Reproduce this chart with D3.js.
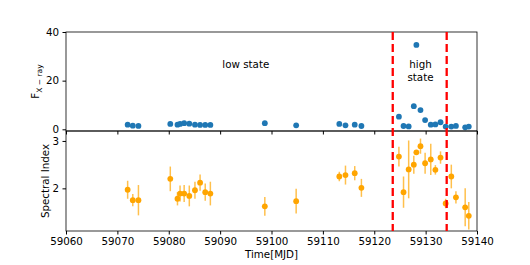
<!DOCTYPE html>
<html>
<head>
<meta charset="utf-8">
<script src="https://cdn.jsdelivr.net/npm/d3@7"></script>
<style>
  body { margin: 0; background: #fff; }
  text { font-family: "DejaVu Sans", sans-serif; }
</style>
</head>
<body>
<div id="vis"></div>
<script>
// observation times (MJD)
var times = [59072.0, 59073.0, 59074.1,
    59080.3, 59081.7, 59082.2, 59083.0, 59084.0, 59085.1, 59086.1, 59087.1, 59088.1,
    59098.7, 59104.8, 59113.2, 59114.4, 59116.2, 59117.5,
    59124.8, 59125.7, 59126.7, 59127.7, 59128.2, 59129.0, 59129.9, 59131.0, 59131.9,
    59132.9, 59133.9, 59135.0, 59135.9, 59137.7, 59138.4];

var flux = [1.9, 1.5, 1.4,
    2.2, 1.9, 2.2, 2.5, 2.3, 1.9, 1.8, 1.8, 1.8,
    2.5, 1.65, 2.2, 1.65, 1.9, 1.36,
    5.2, 1.36, 1.2, 9.5, 34.7, 7.9, 3.8, 1.9, 2.0,
    2.9, 1.1, 1.1, 1.4, 0.8, 1.1];

var specIndex = [1.97, 1.75, 1.75,
    2.20, 1.78, 1.89, 1.89, 1.84, 1.96, 2.12, 1.92, 1.89,
    1.62, 1.73, 2.25, 2.28, 2.32, 2.01,
    2.67, 1.92, 2.40, 2.50, 2.76, 2.89, 2.53, 2.61, 2.39,
    2.65, 1.68, 2.25, 1.81, 1.60, 1.42];

var specErr = [0.19, 0.13, 0.32,
    0.26, 0.14, 0.17, 0.18, 0.22, 0.18, 0.17, 0.18, 0.25,
    0.2, 0.26, 0.1, 0.2, 0.15, 0.19,
    0.21, 0.33, 0.61, 0.19, 0.05, 0.16, 0.22, 0.33, 0.1,
    0.13, 0.1, 0.25, 0.13, 0.4, 0.29];

// boundaries of the high state
var stateLines = [59123.6, 59134.1];

var xTicks = [59060, 59070, 59080, 59090, 59100, 59110, 59120, 59130, 59140];
var fluxTicks = [0, 20, 40];
var indexTicks = [2, 3];

var theMargins = {top: 32, right: 53, bottom: 34, left: 66};
var W = 530, H = 265;
var width = W - theMargins.left - theMargins.right;
var topH = 99;
var botH = 100;

var x = d3.scaleLinear().domain([59060, 59140]).range([0, width]);
var yFlux = d3.scaleLinear().domain([-0.7, 40]).range([topH, 0]);
var yIdx = d3.scaleLinear().domain([1.1, 3.21]).range([botH, 0]);

var chart = d3.select('#vis').append('svg')
    .attr("width", W)
    .attr("height", H);
var vis = chart.append('g')
    .attr("transform", "translate(" + theMargins.left + "," + theMargins.top + ")");

var fs = "10.3px";

//*// top panel \\*\\
var topPanel = vis.append("g");
topPanel.append("g")
    .call(d3.axisLeft(yFlux).tickValues(fluxTicks).tickSize(3.5).tickPadding(3.5))
    .call(function (g) { g.select(".domain").remove(); })
    .selectAll("text").style("font-size", fs).attr("fill", "#000");
topPanel.append("g")
    .attr("transform", "translate(0," + topH + ")")
    .call(d3.axisBottom(x).tickValues(xTicks).tickSize(3.5).tickFormat(""))
    .call(function (g) { g.select(".domain").remove(); });

topPanel.selectAll(".fl")
    .data(times)
    .enter().append("circle")
    .attr("cx", function (d) { return x(d); })
    .attr("cy", function (d, i) { return yFlux(flux[i]); })
    .attr("r", 2.9)
    .attr("fill", "#1f77b4");

topPanel.append("text")
    .attr("x", x(59095)).attr("y", 36)
    .attr("text-anchor", "middle")
    .style("font-size", fs)
    .text("low state");
topPanel.append("text")
    .attr("x", x(59129)).attr("y", 36)
    .attr("text-anchor", "middle")
    .style("font-size", fs)
    .text("high");
topPanel.append("text")
    .attr("x", x(59129)).attr("y", 49)
    .attr("text-anchor", "middle")
    .style("font-size", fs)
    .text("state");

// y label with subscript
var fl = vis.append("text")
    .attr("transform", "translate(-27," + (topH / 2) + ") rotate(-90)")
    .attr("text-anchor", "middle")
    .style("font-size", fs);
fl.append("tspan").text("F");
fl.append("tspan").attr("dy", 3).style("font-size", "7.5px").text("X − ray");

topPanel.append("rect")
    .attr("width", width).attr("height", topH)
    .attr("fill", "none").attr("stroke", "#000").attr("stroke-width", 0.8);

//*// bottom panel \\*\\
var bot = vis.append("g").attr("transform", "translate(0," + topH + ")");
bot.append("g")
    .call(d3.axisLeft(yIdx).tickValues(indexTicks).tickSize(3.5).tickPadding(3.5).tickFormat(d3.format("d")))
    .call(function (g) { g.select(".domain").remove(); })
    .selectAll("text").style("font-size", fs).attr("fill", "#000");
bot.append("g")
    .attr("transform", "translate(0," + botH + ")")
    .call(d3.axisBottom(x).tickValues(xTicks).tickSize(3.5).tickPadding(3.5).tickFormat(d3.format("d")))
    .call(function (g) { g.select(".domain").remove(); })
    .selectAll("text").style("font-size", fs).attr("fill", "#000");

bot.selectAll(".eb")
    .data(times)
    .enter().append("line")
    .attr("x1", function (d) { return x(d); })
    .attr("x2", function (d) { return x(d); })
    .attr("y1", function (d, i) { return yIdx(specIndex[i] - specErr[i]); })
    .attr("y2", function (d, i) { return yIdx(specIndex[i] + specErr[i]); })
    .attr("stroke", "orange")
    .attr("stroke-opacity", 0.7)
    .attr("stroke-width", 1.5);

bot.selectAll(".si")
    .data(times)
    .enter().append("circle")
    .attr("cx", function (d) { return x(d); })
    .attr("cy", function (d, i) { return yIdx(specIndex[i]); })
    .attr("r", 2.9)
    .attr("fill", "orange");

vis.append("text")
    .attr("transform", "translate(-17," + (topH + botH / 2) + ") rotate(-90)")
    .attr("text-anchor", "middle")
    .style("font-size", fs)
    .text("Spectral Index");

vis.append("text")
    .attr("x", width / 2).attr("y", topH + botH + 27)
    .attr("text-anchor", "middle")
    .style("font-size", fs)
    .text("Time[MJD]");

bot.append("rect")
    .attr("width", width).attr("height", botH)
    .attr("fill", "none").attr("stroke", "#000").attr("stroke-width", 0.8);

// high state boundaries across both panels
vis.selectAll(".sl")
    .data(stateLines)
    .enter().append("line")
    .attr("x1", function (d) { return x(d); })
    .attr("x2", function (d) { return x(d); })
    .attr("y1", 0)
    .attr("y2", topH + botH)
    .attr("stroke", "red")
    .attr("stroke-width", 2.3)
    .attr("stroke-dasharray", "8,4");
</script>
</body>
</html>
